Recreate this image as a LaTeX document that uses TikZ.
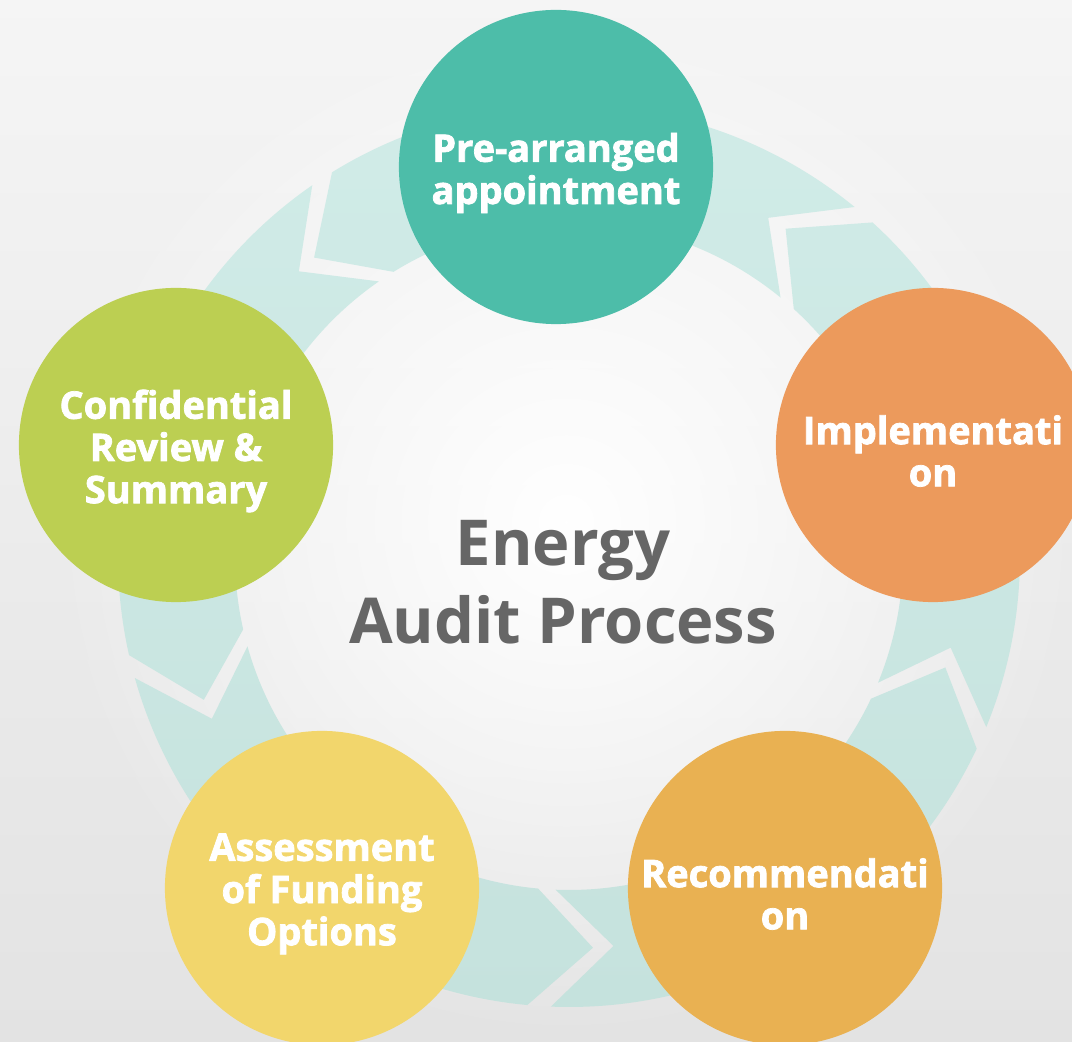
\documentclass[tikz,border=0pt]{standalone}
\usepackage{fontspec}
\setmainfont{Open Sans}
\newfontfamily\heavyfont{Open Sans}[BoldFeatures={FakeBold=2}]
\usetikzlibrary{positioning, fadings}

\definecolor{ringtop}{RGB}{209,236,232}
\definecolor{ringbot}{RGB}{197,226,221}
\definecolor{stepteal}{RGB}{77,189,169}
\definecolor{steporange}{RGB}{236,154,92}
\definecolor{stepamber}{RGB}{233,177,82}
\definecolor{stepyellow}{RGB}{242,214,108}
\definecolor{stepgreen}{RGB}{188,207,82}
\definecolor{hubgray}{RGB}{102,102,102}

\tikzfading[name=centreglow, inner color=transparent!0, outer color=transparent!100]

\tikzset{
  stepnode/.style={circle, minimum size=3.14cm, inner sep=0pt},
  steplabel/.style={text=white, align=center, yshift=-0.06cm,
    font=\fontsize{10.8}{12}\selectfont\heavyfont\bfseries},
  hubtext/.style={align=center, text=hubgray,
    font=\fontsize{18}{22.2}\selectfont\bfseries}
}

\begin{document}
\begin{tikzpicture}[x=0.01cm, y=0.01cm]
  \useasboundingbox (0,0) rectangle (1072,1042);
  \clip (0,0) rectangle (1072,1042);
  \shade[top color=black!4, bottom color=black!11] (0,0) rectangle (1072,1042);
  \fill[white, path fading=centreglow] (566,520) circle (520);

  \coordinate (hub) at (569,486);

  % ring of arrows, running counterclockwise
  \begin{scope}[shift={(hub)}]
    \shade[top color=ringtop, bottom color=ringbot]
      foreach \p/\n in {-15/58, 58/132, 132/203, 203/275, 275/345} {
        ({\p-7.3}:451) arc[start angle={\p-7.3}, end angle={\n-10.3}, radius=451]
        -- ({\n-1.5}:392.5) -- ({\n-10.3}:334)
        arc[start angle={\n-10.3}, end angle={\p-7.3}, radius=334]
        -- ({\p+1.5}:392.5) -- cycle
      };
  \end{scope}

  \node[stepnode, fill=stepteal,
    label={[steplabel]center:Pre-arranged\\appointment}] (appt) at (556,875) {};
  \node[stepnode, fill=steporange,
    label={[steplabel]center:Implementati\\on}] (impl) at (933,597) {};
  \node[stepnode, fill=stepamber,
    label={[steplabel]center:Recommendati\\on}] (reco) at (785,154) {};
  \node[stepnode, fill=stepyellow,
    label={[steplabel]center:Assessment\\of Funding\\Options}] (fund) at (322,154) {};
  \node[stepnode, fill=stepgreen,
    label={[steplabel]center:Confidential\\Review \&\\Summary}] (review) at (176,597) {};

  \node[hubtext] (title) at (563,460) {Energy\\Audit Process};
\end{tikzpicture}
\end{document}
